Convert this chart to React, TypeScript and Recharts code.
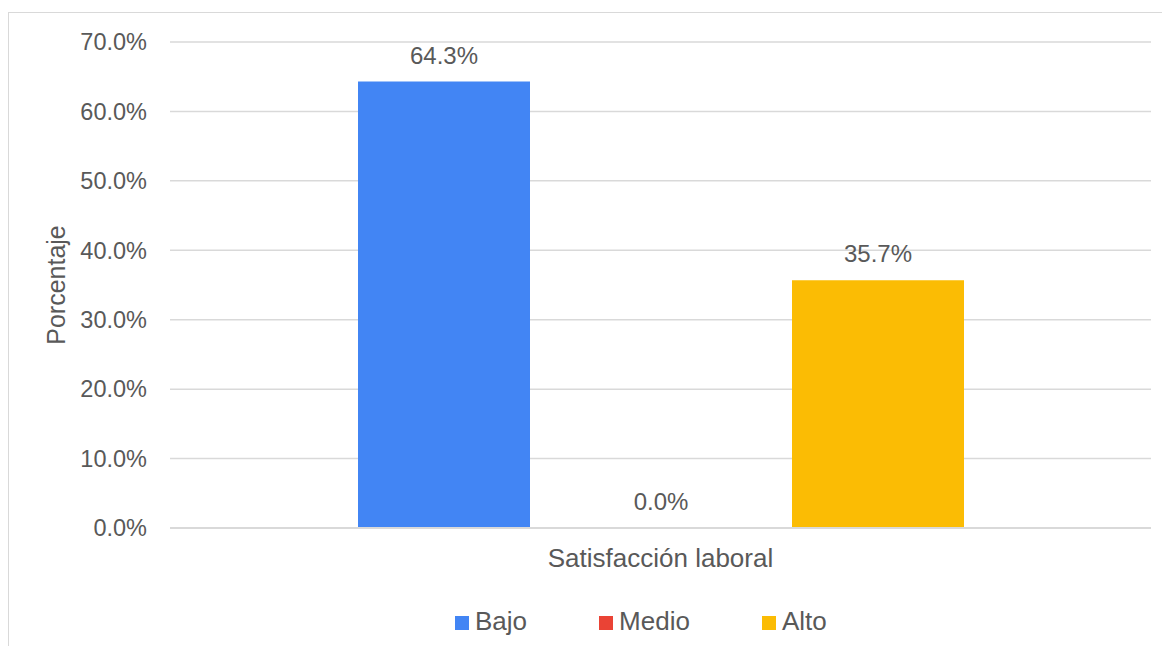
import { BarChart, Bar, XAxis, YAxis, CartesianGrid, Legend, LabelList } from "recharts";

const categories = ["Satisfacción laboral"];
const seriesNames = ["Bajo", "Medio", "Alto"];
const seriesValues = [64.3, 0.0, 35.7];
const seriesColors = ["#4285F4", "#EA4335", "#FBBC04"];
const yTicks = [0, 10, 20, 30, 40, 50, 60, 70];

const data = categories.map((name) => {
  const row: Record<string, string | number> = { name };
  seriesNames.forEach((s, i) => {
    row[s] = seriesValues[i];
  });
  return row;
});

const FONT = '"Liberation Sans", Arial, sans-serif';
const TEXT = "#595959";
const GRID = "#D9D9D9";

const pct = (v: number) => `${Number(v).toFixed(1)}%`;

// data label drawn above each bar, also for the empty one
const TopLabel = (props: any) => {
  const { x, y, width, value } = props;
  return (
    <text
      x={Number(x) + Number(width) / 2}
      y={Number(y) - 18}
      textAnchor="middle"
      fill={TEXT}
      fontSize={24}
      fontFamily={FONT}
    >
      {pct(value)}
    </text>
  );
};

const App = () => {
  return (
    <div style={{ paddingTop: 4 }}>
      <style>{"body{overflow:hidden}"}</style>
      <div
        style={{
          border: `1px solid ${GRID}`,
          width: 1300,
          height: 700,
          background: "#fff",
          fontFamily: FONT,
        }}
      >
        <BarChart
          width={1161}
          height={633}
          data={data}
          margin={{ top: 29, right: 19, left: 0, bottom: 9 }}
          barSize={172}
          barGap={45}
        >
          <CartesianGrid vertical={false} stroke={GRID} strokeWidth={1.5} />
          <XAxis
            dataKey="name"
            tickLine={false}
            tickSize={0}
            tickMargin={21}
            height={78}
            axisLine={{ stroke: GRID, strokeWidth: 2 }}
            tick={{ fill: TEXT, fontSize: 26, fontFamily: FONT }}
          />
          <YAxis
            width={161}
            domain={[0, 70]}
            ticks={yTicks}
            interval={0}
            tickFormatter={pct}
            axisLine={false}
            tickLine={false}
            tickSize={0}
            tickMargin={23}
            tick={{ fill: TEXT, fontSize: 23.5, fontFamily: FONT }}
            label={{
              value: "Porcentaje",
              angle: -90,
              position: "insideLeft",
              offset: 47,
              style: { textAnchor: "middle", fill: TEXT, fontSize: 25, fontFamily: FONT },
            }}
          />
          <Legend
            verticalAlign="bottom"
            align="left"
            iconType="square"
            iconSize={14}
            itemSorter={(item: any) => seriesNames.indexOf(item.value)}
            wrapperStyle={{ left: 446, width: 600, fontFamily: FONT, fontSize: 26 }}
            formatter={(value: string, _entry: unknown, index: number) => (
              <span style={{ color: TEXT, marginLeft: 2, marginRight: index < 2 ? 62 : 0 }}>{value}</span>
            )}
          />
          {seriesNames.map((s, i) => (
            <Bar key={s} dataKey={s} fill={seriesColors[i]} minPointSize={0.01} isAnimationActive={false}>
              <LabelList dataKey={s} position="top" content={TopLabel} />
            </Bar>
          ))}
        </BarChart>
      </div>
    </div>
  );
};

export default App;
